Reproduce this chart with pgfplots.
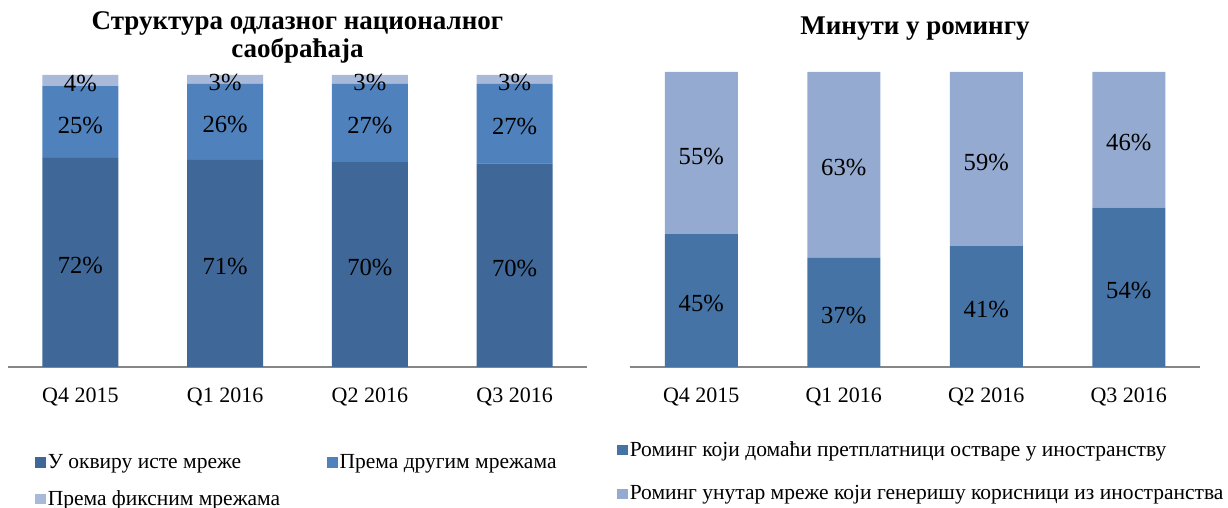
\documentclass[border=0pt]{standalone}
\usepackage{pgfplots}
\pgfplotsset{compat=1.18}
\usepackage{fontspec}
\setmainfont{Liberation Serif}
\definecolor{ldark}{RGB}{63,104,152}
\definecolor{lmid}{RGB}{79,129,189}
\definecolor{llight}{RGB}{168,185,218}
\definecolor{rdark}{RGB}{69,115,166}
\definecolor{rlight}{RGB}{149,170,208}
\definecolor{axgray}{RGB}{134,134,134}
\pgfplotsset{
  mybar/.style={
    ybar stacked,
    scale only axis,
    ymin=0, ymax=100,
    xmin=-0.5, xmax=3.5,
    axis x line*=bottom,
    axis y line=none,
    x axis line style={draw=axgray, line width=0.9pt, -},
    xtick={0,1,2,3},
    xticklabels={Q4 2015,Q1 2016,Q2 2016,Q3 2016},
    major tick length=0pt,
    xticklabel style={font=\fontsize{11}{13}\selectfont, yshift=-7pt},
    point meta=explicit symbolic,
    nodes near coords,
    every node near coord/.append style={anchor=center, text=black, yshift=-1.5pt,
      font=\fontsize{12.3}{14}\selectfont},
    legend cell align=left,
    legend image code/.code={\fill[##1,draw=none] (0pt,-2.6pt) rectangle (5.2pt,2.6pt);},
    legend style={draw=none, fill=none, inner sep=0pt, anchor=north west,
      font=\fontsize{10.75}{13}\selectfont, nodes={inner sep=1pt}},
    clip=false,
  }
}
\begin{document}
\begin{tikzpicture}
\path[use as bounding box] (0,0) rectangle (614pt,254pt);
\begin{axis}[mybar,
  at={(4pt,70.5pt)}, anchor=south west,
  width=289.5pt, height=146pt, bar width=38pt,
  title={Структура одлазног националног\\саобраћаја},
  title style={font=\bfseries\fontsize{13.5}{14}\selectfont, align=center,
    at={(axis description cs:0.5,1)}, anchor=south, yshift=-3.5pt},
  legend columns=2,
  legend style={at={(axis description cs:0.0466,-0.29)},
    /tikz/every even column/.append style={column sep=22.5pt},
    /tikz/row sep=7.5pt},
]
\addplot[fill=ldark, draw=none] coordinates {(0,71.6)[72\%] (1,70.9)[71\%] (2,70.2)[70\%] (3,69.7)[70\%]};
\addplot[fill=lmid, draw=none] coordinates {(0,24.6)[25\%] (1,26.1)[26\%] (2,26.8)[27\%] (3,27.3)[27\%]};
\addplot[fill=llight, draw=none] coordinates {(0,3.8)[4\%] (1,3.0)[3\%] (2,3.0)[3\%] (3,3.0)[3\%]};
\legend{У оквиру исте мреже, Према другим мрежама, Према фиксним мрежама}
\end{axis}
\begin{axis}[mybar,
  at={(315pt,70.5pt)}, anchor=south west,
  width=285pt, height=147.5pt, bar width=36.5pt,
  title={Минути у ромингу},
  title style={font=\bfseries\fontsize{13.5}{15.5}\selectfont,
    at={(axis description cs:0.5,1)}, anchor=base, yshift=12.5pt},
  legend columns=1,
  legend style={at={(axis description cs:-0.0228,-0.2436)},
    /tikz/row sep=11pt},
]
\addplot[fill=rdark, draw=none] coordinates {(0,45)[45\%] (1,37)[37\%] (2,41)[41\%] (3,54)[54\%]};
\addplot[fill=rlight, draw=none] coordinates {(0,55)[55\%] (1,63)[63\%] (2,59)[59\%] (3,46)[46\%]};
\legend{Роминг који домаћи претплатници остваре у иностранству, Роминг унутар мреже који генеришу корисници из иностранства}
\end{axis}
\end{tikzpicture}
\end{document}
